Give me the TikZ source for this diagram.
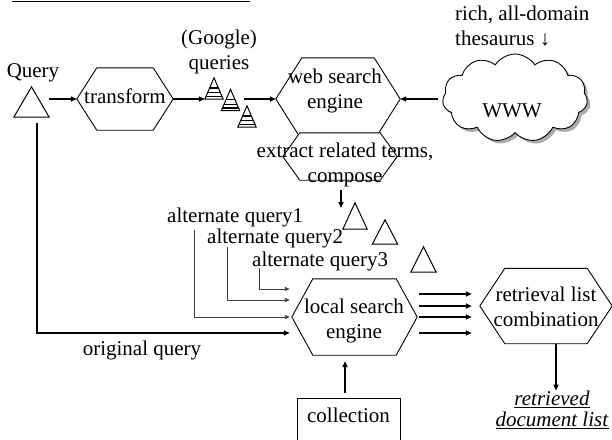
\documentclass[tikz,border=0pt]{standalone}
\usepackage{fontspec}
\setmainfont{Liberation Serif}
\usetikzlibrary{arrows.meta,calc,shapes.symbols,shadows}

% hexagon drawn on the corners of an invisible frame node; #3 = slant width
\newcommand\hexoutline[3][]{%
  \draw[hexline,#1] (#2.west) -- ([xshift=#3]#2.north west) -- ([xshift=-#3]#2.north east)
    -- (#2.east) -- ([xshift=-#3]#2.south east) -- ([xshift=#3]#2.south west) -- cycle;}
% upward triangle inside a frame node
\newcommand\trioutline[1]{%
  \draw[triline] (#1.south west) -- (#1.north) -- (#1.south east) -- cycle;}
% upward triangle with horizontal stripes
\newcommand\stripedtri[1]{%
  \begin{scope}
    \clip (#1.south west) -- (#1.north) -- (#1.south east) -- cycle;
    \foreach \f in {0.47,0.7,0.88}{%
      \draw[line width=1.4pt] ($(#1.north west)!\f!(#1.south west)$) -- ($(#1.north east)!\f!(#1.south east)$);}
  \end{scope}
  \trioutline{#1}}

\tikzset{
  txt/.style={inner sep=0pt, align=center, font=\fontsize{21}{25}\selectfont},
  frame/.style 2 args={inner sep=0pt, minimum width=#1, minimum height=#2},
  hexline/.style={line width=0.9pt, line join=miter},
  triline/.style={line width=1pt, line join=miter},
  arr/.style={-{Triangle[length=6pt,width=5pt]}, line width=1.6pt},
  thinarr/.style={-{Triangle[length=5pt,width=4pt]}, line width=0.9pt, draw=black!75},
  cloudnode/.style={cloud, cloud puffs=11, cloud puff arc=115, cloud ignores aspect,
    minimum width=145pt, minimum height=88pt, inner sep=0pt, draw, line width=0.9pt, fill=white,
    drop shadow={shadow xshift=3pt, shadow yshift=-3pt, fill=black!55, opacity=0.6}},
}

\begin{document}
\begin{tikzpicture}[x=1pt, y=-1pt]
  \useasboundingbox (0,0) rectangle (612,439);
  \clip (0,0) rectangle (612,439);

  % heading rule
  \draw[line width=1.8pt] (12,1.5) -- (250,1.5);

  % frames of the shapes
  \node[frame={35pt}{30pt}] (qtri) at (31.5,102) {};
  \node[frame={96pt}{62pt}] (transform) at (125,99) {};
  \node[frame={18pt}{21pt}] (g1) at (214,88.5) {};
  \node[frame={18pt}{21pt}] (g2) at (230.5,100) {};
  \node[frame={18pt}{21pt}] (g3) at (247,116.5) {};
  \node[frame={124pt}{82pt}] (web) at (338,99) {};
  \node[frame={114pt}{47pt}] (extract) at (340,156.5) {};
  \node[frame={24pt}{26pt}] (t1) at (355,216) {};
  \node[frame={25pt}{24pt}] (t2) at (385,232) {};
  \node[frame={25pt}{25pt}] (t3) at (423.5,259.5) {};
  \node[frame={125pt}{76pt}] (local) at (354.5,317) {};
  \node[frame={132pt}{75pt}] (retr) at (546,306) {};
  \node[cloudnode] (www) at (515,98) {};

  % outlines
  \trioutline{qtri}
  \hexoutline{transform}{20pt}
  \stripedtri{g1}
  \stripedtri{g2}
  \stripedtri{g3}
  \hexoutline{web}{26pt}
  \hexoutline[fill=white]{extract}{17pt}
  \trioutline{t1}
  \trioutline{t2}
  \trioutline{t3}
  \hexoutline{local}{21pt}
  \hexoutline{retr}{25pt}

  % texts
  \node[txt, anchor=base] (qlabel) at (33,77) {Query};
  \node[txt, anchor=base] (transformtext) at (125,103) {transform};
  \node[txt, anchor=north] (gqlabel) at (219,29.5) {(Google)\\queries};
  \node[txt, anchor=north] (webtext) at (335,69) {web search\\engine};
  \node[txt, anchor=base] (wwwtext) at (512,117) {WWW};
  \node[txt, anchor=north west, align=left] (thes) at (455,5.5) {rich, all-domain\\thesaurus ↓};
  \node[txt, anchor=north] (extracttext) at (345,142.5) {extract related terms,\\compose};
  \node[txt, anchor=base west] (aq1) at (167,222) {alternate query1};
  \node[txt, anchor=base west] (aq2) at (207,243) {alternate query2};
  \node[txt, anchor=base west] (aq3) at (252,266) {alternate query3};
  \node[txt, anchor=base] (origtext) at (142,355) {original query};
  \node[txt, anchor=north] (localtext) at (354,298.5) {local search\\engine};
  \node[txt, anchor=north] (retrtext) at (546,286.5) {retrieval list\\combination};
  \node[txt, anchor=north] (docs) at (552,390.7)
    {\underline{\textit{retrieved}}\\[-4pt]\underline{\textit{document list}}};
  \node[txt, draw, line width=0.9pt, anchor=base, minimum width=103pt,
        text height=14.5pt, text depth=30pt, inner ysep=9.5pt] (coll) at (348.5,422) {collection};

  % connectors
  \coordinate (lin) at ([xshift=-2pt]local.west);
  \coordinate (rin) at ([xshift=-10pt]retr.west);
  \coordinate (tokens) at (341,208);

  \draw[arr] (qtri.south east |- transform.west) -- (transform.west);
  \draw[arr] (transform.east) -- (g1.south west |- transform.east);
  \draw[arr] ([xshift=-3pt]g3.north |- web.west) -- (web.west);
  \draw[arr] ([xshift=-5pt]web.east -| www.west) -- (web.east);
  \draw[arr] ([yshift=-10pt]extract.south -| tokens) -- (tokens);

  \draw[thinarr] ([shift={(27,8)}]aq1.base west) |- (lin);
  \draw[thinarr] ([shift={(20,4)}]aq2.base west) |- ([shift={(0,-17)}]lin);
  \draw[thinarr] ([shift={(7,2)}]aq3.base west) |- ([shift={(0,-28)}]lin);
  \draw[arr] ([shift={(5.5,6)}]qtri.south) |- ([shift={(0,16)}]lin);

  \foreach \dy in {-23,-11,0,16}{%
    \draw[arr] ([shift={(2,\dy)}]local.east) -- ([shift={(2,\dy)}]local.east -| rin);}

  \draw[arr] ([xshift=10pt]retr.south) -- ([xshift=10pt]retr.south |- docs.north) ;
  \draw[arr, shorten <=5pt, shorten >=6pt] ([xshift=-3.5pt]coll.north) -- ([xshift=-3.5pt]coll.north |- local.south);
\end{tikzpicture}
\end{document}
